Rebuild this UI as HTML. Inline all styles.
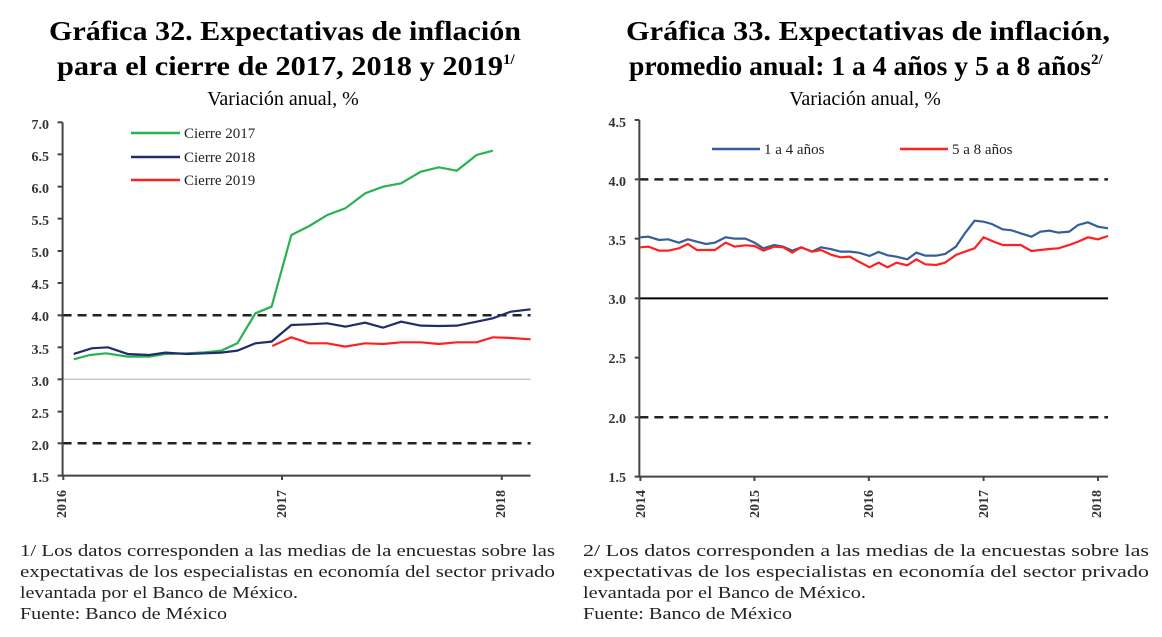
<!DOCTYPE html>
<html><head><meta charset="utf-8"><style>
html,body{margin:0;padding:0;background:#fff;}
svg{display:block;}
</style></head><body>
<svg width="1162" height="637" xmlns="http://www.w3.org/2000/svg" font-family="'Liberation Serif', serif">
<g font-weight="bold" font-size="27" text-anchor="middle" fill="#000">
<text x="285" y="40" textLength="472" lengthAdjust="spacingAndGlyphs">Gráfica 32. Expectativas de inflación</text>
<text x="280" y="75" textLength="446" lengthAdjust="spacingAndGlyphs">para el cierre de 2017, 2018 y 2019</text>
<text x="868" y="40" textLength="484" lengthAdjust="spacingAndGlyphs">Gráfica 33. Expectativas de inflación,</text>
<text x="860" y="75" textLength="462" lengthAdjust="spacingAndGlyphs">promedio anual: 1 a 4 años y 5 a 8 años</text>
</g>
<g font-weight="bold" font-size="15">
<text x="503" y="64">1/</text>
<text x="1091" y="64">2/</text>
</g>
<g font-size="20" text-anchor="middle">
<text x="283" y="105">Variación anual, %</text>
<text x="865" y="105">Variación anual, %</text>
</g>

<g font-size="14" text-anchor="end" fill="#333" font-weight="bold">
<text x="49" y="129">7.0</text><text x="49" y="161">6.5</text><text x="49" y="193">6.0</text>
<text x="49" y="225">5.5</text><text x="49" y="257">5.0</text><text x="49" y="289">4.5</text>
<text x="49" y="321">4.0</text><text x="49" y="354">3.5</text><text x="49" y="386">3.0</text>
<text x="49" y="418">2.5</text><text x="49" y="450">2.0</text><text x="49" y="482">1.5</text>
</g>
<g transform="translate(0,100) scale(0.3597,0.3333)" fill="none">
<line x1="174" y1="838" x2="1475" y2="838" stroke="#c8c8c8" stroke-width="1.5" vector-effect="non-scaling-stroke"/>
<line x1="174" y1="646" x2="1475" y2="646" stroke="#222" stroke-width="2.5" stroke-dasharray="9,6" vector-effect="non-scaling-stroke"/>
<line x1="174" y1="1030" x2="1475" y2="1030" stroke="#222" stroke-width="2.5" stroke-dasharray="9,6" vector-effect="non-scaling-stroke"/>
<polyline stroke="#27b34f" stroke-width="2.2" vector-effect="non-scaling-stroke" points="205,778 250,765 295,760 355,770 415,770 460,762 520,760 570,757 615,752 660,730 710,640 755,620 810,405 860,378 910,345 960,325 1015,280 1065,260 1115,250 1170,215 1220,202 1270,212 1325,165 1370,152"/>
<polyline stroke="#1f2d6b" stroke-width="2.2" vector-effect="non-scaling-stroke" points="205,762 255,745 300,742 355,762 415,765 460,758 520,762 570,760 615,758 660,752 710,730 755,725 810,675 860,673 910,670 960,680 1015,668 1065,683 1115,665 1170,677 1220,678 1270,677 1325,665 1370,655 1420,635 1475,628"/>
<polyline stroke="#ff2020" stroke-width="2.2" vector-effect="non-scaling-stroke" points="757,738 810,712 860,730 910,730 960,740 1015,730 1065,732 1115,727 1170,727 1220,732 1270,727 1325,727 1370,712 1420,714 1475,718"/>
<polyline stroke="#444" stroke-width="2" vector-effect="non-scaling-stroke" points="174,67 174,1127 1475,1127"/>
<g stroke="#444" stroke-width="2">
<line x1="160" y1="67" x2="174" y2="67" vector-effect="non-scaling-stroke"/>
<line x1="160" y1="163" x2="174" y2="163" vector-effect="non-scaling-stroke"/>
<line x1="160" y1="260" x2="174" y2="260" vector-effect="non-scaling-stroke"/>
<line x1="160" y1="356" x2="174" y2="356" vector-effect="non-scaling-stroke"/>
<line x1="160" y1="453" x2="174" y2="453" vector-effect="non-scaling-stroke"/>
<line x1="160" y1="549" x2="174" y2="549" vector-effect="non-scaling-stroke"/>
<line x1="160" y1="646" x2="174" y2="646" vector-effect="non-scaling-stroke"/>
<line x1="160" y1="742" x2="174" y2="742" vector-effect="non-scaling-stroke"/>
<line x1="160" y1="838" x2="174" y2="838" vector-effect="non-scaling-stroke"/>
<line x1="160" y1="935" x2="174" y2="935" vector-effect="non-scaling-stroke"/>
<line x1="160" y1="1030" x2="174" y2="1030" vector-effect="non-scaling-stroke"/>
<line x1="160" y1="1127" x2="174" y2="1127" vector-effect="non-scaling-stroke"/>
<line x1="176" y1="1127" x2="176" y2="1140" vector-effect="non-scaling-stroke"/>
<line x1="784" y1="1127" x2="784" y2="1140" vector-effect="non-scaling-stroke"/>
<line x1="1395" y1="1127" x2="1395" y2="1140" vector-effect="non-scaling-stroke"/>
</g>
</g>
<g font-size="14" fill="#333" font-weight="bold">
<text transform="translate(66,518) rotate(-90)">2016</text>
<text transform="translate(286,518) rotate(-90)">2017</text>
<text transform="translate(505,518) rotate(-90)">2018</text>
</g>
<g stroke-width="2.5">
<line x1="131" y1="133" x2="180" y2="133" stroke="#27b34f"/>
<line x1="131" y1="157" x2="180" y2="157" stroke="#1f2d6b"/>
<line x1="131" y1="180" x2="180" y2="180" stroke="#ff2020"/>
</g>
<g font-size="15" fill="#222">
<text x="184" y="138">Cierre 2017</text>
<text x="184" y="162">Cierre 2018</text>
<text x="184" y="185">Cierre 2019</text>
</g>

<g font-size="14" text-anchor="end" fill="#333" font-weight="bold">
<text x="626" y="127">4.5</text><text x="626" y="186">4.0</text><text x="626" y="245">3.5</text>
<text x="626" y="304">3.0</text><text x="626" y="363">2.5</text><text x="626" y="423">2.0</text>
<text x="626" y="482">1.5</text>
</g>
<g transform="translate(580,100) scale(0.3597,0.3333)" fill="none">
<line x1="165" y1="238" x2="1468" y2="238" stroke="#222" stroke-width="2.5" stroke-dasharray="9,6" vector-effect="non-scaling-stroke"/>
<line x1="165" y1="952" x2="1468" y2="952" stroke="#222" stroke-width="2.5" stroke-dasharray="9,6" vector-effect="non-scaling-stroke"/>
<line x1="165" y1="595" x2="1468" y2="595" stroke="#000" stroke-width="2" vector-effect="non-scaling-stroke"/>
<polyline stroke="#355f9a" stroke-width="2.2" vector-effect="non-scaling-stroke" points="168,412 190,410 220,420 245,418 275,428 300,418 325,425 350,432 375,428 405,412 430,416 460,416 485,428 510,445 540,435 565,440 590,452 615,442 645,455 670,442 700,448 725,455 750,455 775,458 805,468 830,456 855,466 880,470 910,478 935,458 960,467 990,467 1015,462 1045,440 1070,400 1097,362 1122,365 1145,372 1175,388 1200,391 1225,400 1255,410 1280,395 1305,392 1330,398 1360,395 1385,375 1412,367 1440,380 1468,385"/>
<polyline stroke="#ff2020" stroke-width="2.2" vector-effect="non-scaling-stroke" points="168,442 190,440 220,452 245,452 275,445 300,432 325,450 350,450 375,450 405,428 430,440 460,436 485,438 510,452 540,440 565,442 590,458 615,442 645,455 670,450 700,465 725,472 750,470 775,485 805,502 830,488 855,502 880,488 910,496 935,478 960,493 990,495 1015,488 1045,465 1070,455 1097,445 1122,412 1150,425 1175,435 1200,435 1225,435 1255,453 1280,450 1305,447 1330,445 1360,435 1385,425 1412,412 1440,418 1468,408"/>
<polyline stroke="#444" stroke-width="2" vector-effect="non-scaling-stroke" points="165,60 165,1130 1468,1130"/>
<g stroke="#444" stroke-width="2">
<line x1="152" y1="60" x2="165" y2="60" vector-effect="non-scaling-stroke"/>
<line x1="152" y1="238" x2="165" y2="238" vector-effect="non-scaling-stroke"/>
<line x1="152" y1="416" x2="165" y2="416" vector-effect="non-scaling-stroke"/>
<line x1="152" y1="595" x2="165" y2="595" vector-effect="non-scaling-stroke"/>
<line x1="152" y1="773" x2="165" y2="773" vector-effect="non-scaling-stroke"/>
<line x1="152" y1="952" x2="165" y2="952" vector-effect="non-scaling-stroke"/>
<line x1="152" y1="1130" x2="165" y2="1130" vector-effect="non-scaling-stroke"/>
<line x1="168" y1="1130" x2="168" y2="1143" vector-effect="non-scaling-stroke"/>
<line x1="485" y1="1130" x2="485" y2="1143" vector-effect="non-scaling-stroke"/>
<line x1="803" y1="1130" x2="803" y2="1143" vector-effect="non-scaling-stroke"/>
<line x1="1122" y1="1130" x2="1122" y2="1143" vector-effect="non-scaling-stroke"/>
<line x1="1440" y1="1130" x2="1440" y2="1143" vector-effect="non-scaling-stroke"/>
</g>
</g>
<g font-size="14" fill="#333" font-weight="bold">
<text transform="translate(645,518) rotate(-90)">2014</text>
<text transform="translate(759,518) rotate(-90)">2015</text>
<text transform="translate(873,518) rotate(-90)">2016</text>
<text transform="translate(988,518) rotate(-90)">2017</text>
<text transform="translate(1101,518) rotate(-90)">2018</text>
</g>
<g stroke-width="2.5">
<line x1="712" y1="149" x2="760" y2="149" stroke="#355f9a"/>
<line x1="900" y1="149" x2="948" y2="149" stroke="#ff2020"/>
</g>
<g font-size="15" fill="#222">
<text x="764" y="154">1 a 4 años</text>
<text x="952" y="154">5 a 8 años</text>
</g>

<g font-size="17" fill="#222">
<text x="20" y="556" textLength="535" lengthAdjust="spacingAndGlyphs">1/ Los datos corresponden a las medias de la encuestas sobre las</text>
<text x="20" y="577" textLength="535" lengthAdjust="spacingAndGlyphs">expectativas de los especialistas en economía del sector privado</text>
<text x="20" y="598" textLength="278" lengthAdjust="spacingAndGlyphs">levantada por el Banco de México.</text>
<text x="20" y="619" textLength="207" lengthAdjust="spacingAndGlyphs">Fuente: Banco de México</text>
<text x="583" y="556" textLength="566" lengthAdjust="spacingAndGlyphs">2/ Los datos corresponden a las medias de la encuestas sobre las</text>
<text x="583" y="577" textLength="566" lengthAdjust="spacingAndGlyphs">expectativas de los especialistas en economía del sector privado</text>
<text x="583" y="598" textLength="283" lengthAdjust="spacingAndGlyphs">levantada por el Banco de México.</text>
<text x="583" y="619" textLength="209" lengthAdjust="spacingAndGlyphs">Fuente: Banco de México</text>
</g>
</svg>
</body></html>
